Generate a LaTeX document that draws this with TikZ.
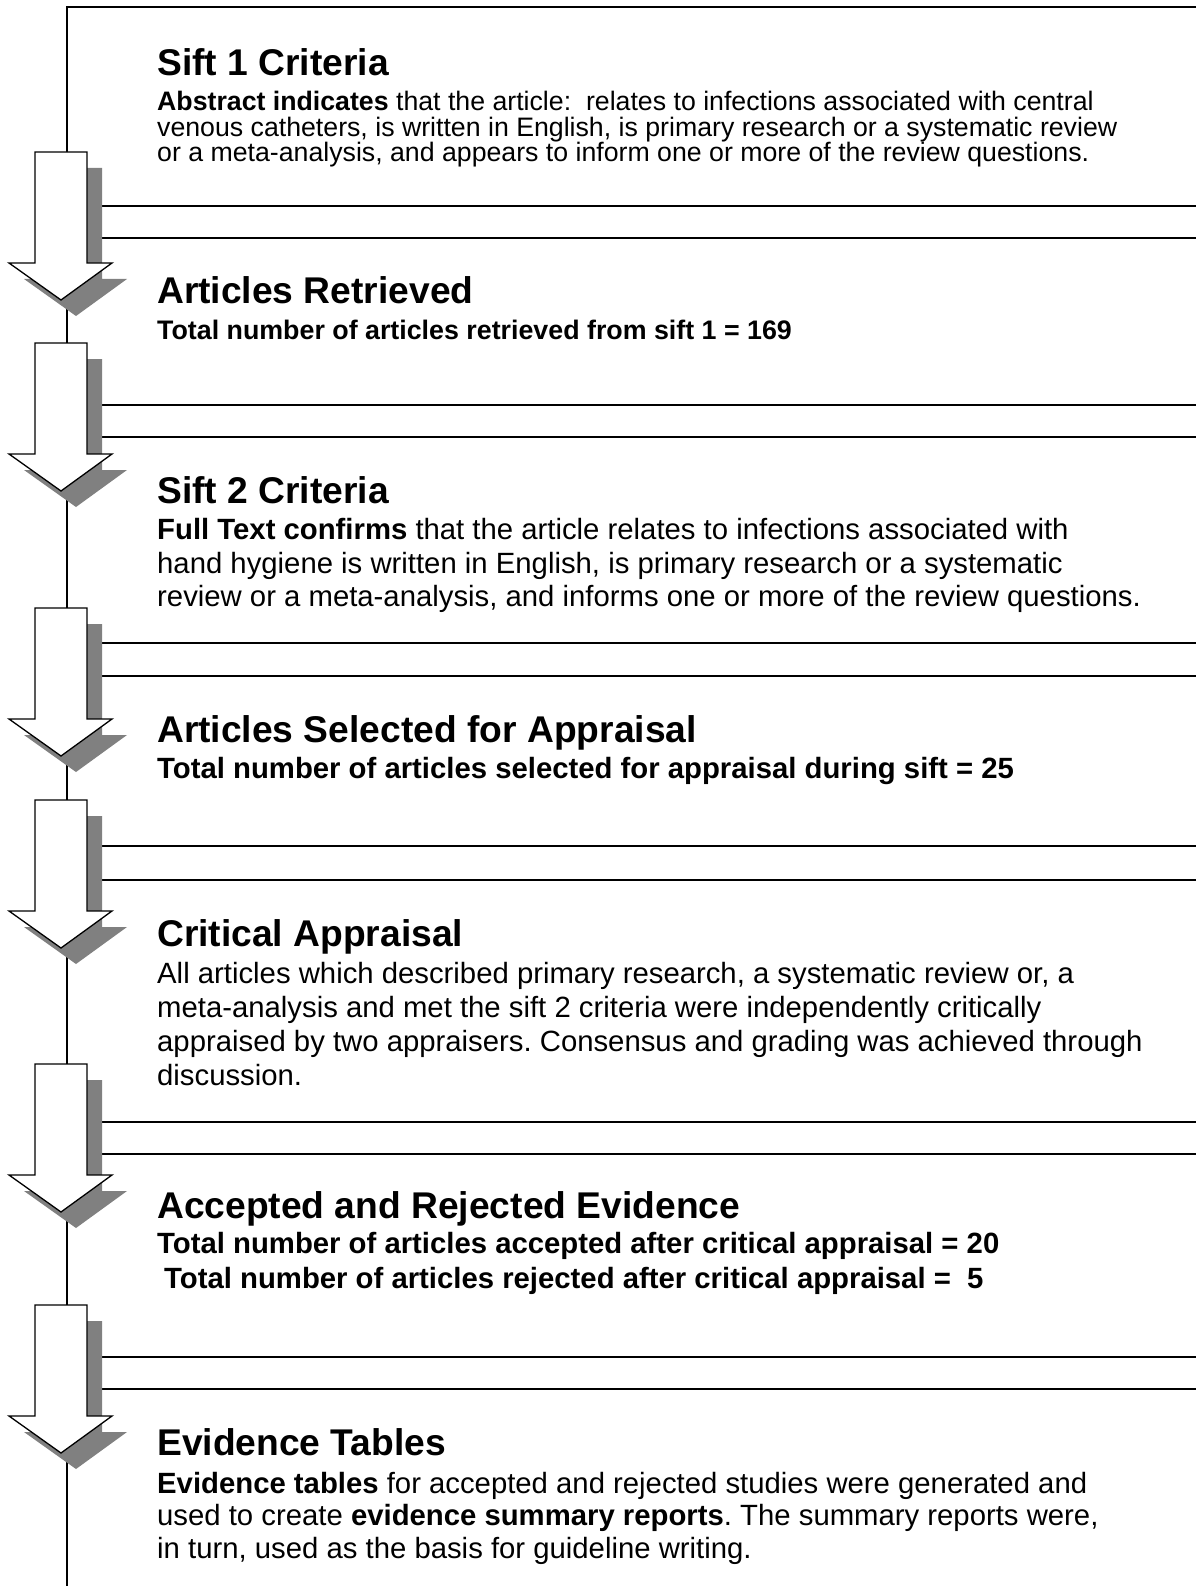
\documentclass[tikz,border=0pt]{standalone}
\usepackage{fontspec}
\setmainfont{Liberation Sans}
\frenchspacing
\definecolor{shade}{HTML}{808080}
\tikzset{
  ttl/.style={anchor=base west, inner sep=0pt, font=\fontsize{37.2}{40}\selectfont\bfseries},
  bdys/.style={anchor=base west, inner sep=0pt, font=\fontsize{26.7}{30}\selectfont},
  bdysb/.style={anchor=base west, inner sep=0pt, font=\fontsize{26.8}{30}\selectfont\bfseries},
  bdy/.style={anchor=base west, inner sep=0pt, font=\fontsize{29.3}{32}\selectfont},
  bdyb/.style={anchor=base west, inner sep=0pt, font=\fontsize{29.3}{32}\selectfont\bfseries},
  rule/.style={line width=2pt},
  arrowbody/.style={fill=white, draw=black, line width=1.3pt, line join=miter},
  arrowshadow/.style={fill=shade},
}
\begin{document}
\begin{tikzpicture}[x=1pt,y=-1pt]
\useasboundingbox[fill=white] (0,0) rectangle (1196,1586);
% frame lines
\draw[rule] (1196,7) -- (67,7) -- (67,1586);
\foreach \ya/\yb in {206/238,405/437,643/676,846/880,1122/1154,1357/1389}{
  \draw[rule] (67,\ya) -- (1196,\ya);
  \draw[rule] (67,\yb) -- (1196,\yb);
}
% arrows with shadows
\foreach \t in {152,343,608,800,1064,1305}{
  \fill[arrowshadow, shift={(15,16)}] (35,\t) -- (87,\t) -- (87,{\t+111}) -- (112,{\t+111}) -- (61,{\t+148}) -- (9,{\t+111}) -- (35,{\t+111}) -- cycle;
  \draw[arrowbody] (35,\t) -- (87,\t) -- (87,{\t+111}) -- (112,{\t+111}) -- (61,{\t+148}) -- (9,{\t+111}) -- (35,{\t+111}) -- cycle;
}
% Section 1
\node[ttl] (s1t) at (157,75.5) {Sift 1 Criteria};
\node[bdys] (s1a) at (157,111) {\textbf{Abstract indicates} that the article:\ \ relates to infections associated with central};
\node[bdys] (s1b) at (157,136.5) {venous catheters, is written in English, is primary research or a systematic review};
\node[bdys] (s1c) at (157,162) {or a meta-analysis, and appears to inform one or more of the review questions.};
% Section 2
\node[ttl] (s2t) at (157,304) {Articles Retrieved};
\node[bdysb] (s2a) at (157,339) {Total number of articles retrieved from sift 1 = 169};
% Section 3
\node[ttl] (s3t) at (157,503) {Sift 2 Criteria};
\node[bdy] (s3a) at (157,539.5) {\textbf{Full Text confirms} that the article relates to infections associated with};
\node[bdy] (s3b) at (157,573) {hand hygiene is written in English, is primary research or a systematic};
\node[bdy] (s3c) at (157,606) {review or a meta-analysis, and informs one or more of the review questions.};
% Section 4
\node[ttl] (s4t) at (157,742) {Articles Selected for Appraisal};
\node[bdyb] (s4a) at (157,778) {Total number of articles selected for appraisal during sift = 25};
% Section 5
\node[ttl] (s5t) at (157,946) {Critical Appraisal};
\node[bdy] (s5a) at (157,983) {All articles which described primary research, a systematic review or, a};
\node[bdy] (s5b) at (157,1017) {meta-analysis and met the sift 2 criteria were independently critically};
\node[bdy] (s5c) at (157,1051) {appraised by two appraisers. Consensus and grading was achieved through};
\node[bdy] (s5d) at (157,1085) {discussion.};
% Section 6
\node[ttl] (s6t) at (157,1218) {Accepted and Rejected Evidence};
\node[bdyb] (s6a) at (157,1253) {Total number of articles accepted after critical appraisal = 20};
\node[bdyb] (s6b) at (164,1288) {Total number of articles rejected after critical appraisal =\ \ 5};
% Section 7
\node[ttl] (s7t) at (157,1455) {Evidence Tables};
\node[bdy] (s7a) at (157,1493) {\textbf{Evidence tables} for accepted and rejected studies were generated and};
\node[bdy] (s7b) at (157,1525.5) {used to create \textbf{evidence summary reports}. The summary reports were,};
\node[bdy] (s7c) at (157,1558) {in turn, used as the basis for guideline writing.};
\end{tikzpicture}
\end{document}
